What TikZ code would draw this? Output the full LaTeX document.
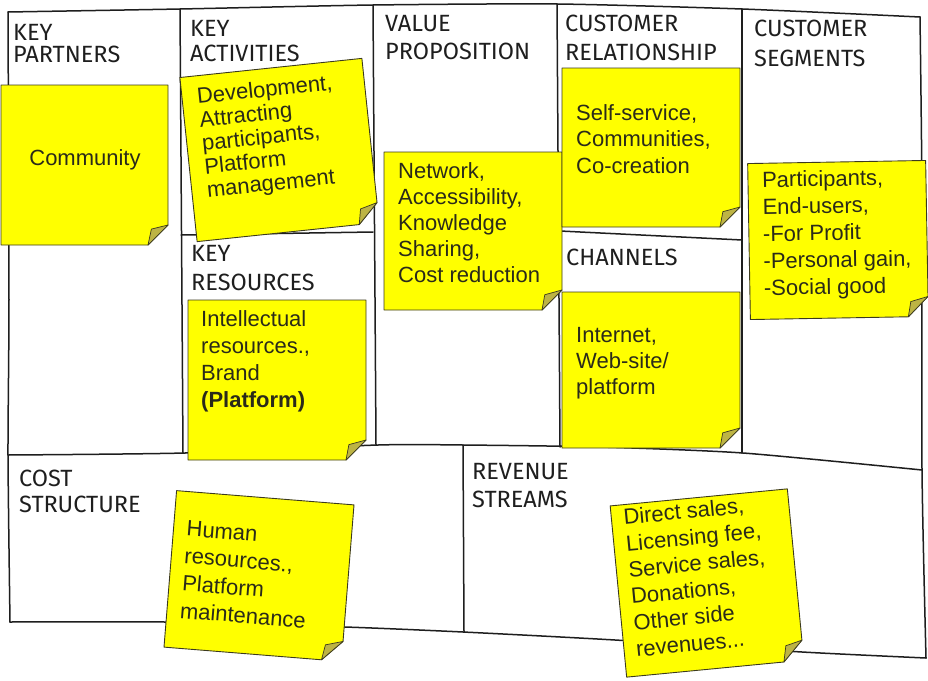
\documentclass[tikz,border=0pt]{standalone}
\usepackage{fontspec}
\setmainfont{Liberation Sans}
\newfontfamily\handfont{Fira Sans}
\usetikzlibrary{calc}
\definecolor{ink}{HTML}{1E1E1E}
\definecolor{noteyellow}{HTML}{FFFF00}
\definecolor{noteedge}{HTML}{3C3A1E}
\definecolor{foldfill}{HTML}{BDB444}
\definecolor{notetextcol}{HTML}{2A2A1A}
\tikzset{
  gridline/.style={draw=ink, line width=1.5pt, line join=round, line cap=round},
  head/.style={anchor=north west, inner sep=0pt, align=left, text=ink, font=\handfont\fontsize{23.5}{27}\selectfont},
  notebox/.style={draw=none, inner sep=0pt, outer sep=0pt},
  notepaper/.style={fill=noteyellow, draw=noteedge, line width=0.9pt, line join=round},
  notefold/.style={fill=foldfill, draw=noteedge, line width=0.7pt, line join=round},
  notetext/.style={anchor=north west, align=left, text=notetextcol, font=\fontsize{22}{26}\selectfont},
}
\newcommand{\stickynote}[5]{%
  \node[notebox, minimum width=#3pt, minimum height=#4pt, rotate=#5] (#1) at (#2) {};
  \coordinate (#1-fa) at ($(#1.south east)!20pt!(#1.north east)$);
  \coordinate (#1-fb) at ($(#1.south east)!20pt!(#1.south west)$);
  \coordinate (#1-ft) at ($(#1.south east)!23pt!(#1.center)$);
  \path[notepaper] (#1.north west) -- (#1.north east) -- (#1-fa) -- (#1-fb) -- (#1.south west) -- cycle;
  \path[notefold] (#1-fa) -- (#1-ft) -- (#1-fb) -- cycle;
}
\begin{document}
\begin{tikzpicture}[x=1pt,y=-1pt]
\useasboundingbox (0,0) rectangle (928,680);
\fill[white] (0,0) rectangle (928,680);

% grid
\draw[gridline] plot[smooth, tension=0.4] coordinates {(8,12) (180,9) (373,5) (557,4) (742,9) (920,17)};
\draw[gridline] plot[smooth, tension=0.4] coordinates {(8,12) (9,300) (8,455) (10,622)};
\draw[gridline] plot[smooth, tension=0.4] coordinates {(920,17) (922,200) (922,470) (926,658)};
\draw[gridline] plot[smooth, tension=0.4] coordinates {(8,455) (185,453) (378,445) (463,445) (600,447) (743,453) (922,470)};
\draw[gridline] plot[smooth, tension=0.4] coordinates {(10,622) (165,622) (345,627) (463,632) (615,640) (802,652) (926,658)};
\draw[gridline] (180,9) -- (183,453);
\draw[gridline] (181,235) -- (373,232);
\draw[gridline] (373,5) -- (376,445);
\draw[gridline] (557,4) -- (560,447);
\draw[gridline] (742,9) -- (742,453);
\draw[gridline] (560,231) -- (742,240);
\draw[gridline] (463,445) -- (464,632);

% headings
\node[head, font=\handfont\fontsize{23.5}{22}\selectfont] (hkp) at (13,24) {KEY\\PARTNERS};
\node[head, font=\handfont\fontsize{23.5}{25}\selectfont] (hka) at (190,20) {KEY\\ACTIVITIES};
\node[head, font=\handfont\fontsize{23.5}{28}\selectfont] (hvp) at (385,15) {VALUE\\PROPOSITION};
\node[head, font=\handfont\fontsize{23.5}{29}\selectfont] (hcr) at (565,15) {CUSTOMER\\RELATIONSHIP};
\node[head, font=\handfont\fontsize{23.5}{30}\selectfont] (hcs) at (754,20) {CUSTOMER\\SEGMENTS};
\node[head, font=\handfont\fontsize{23.5}{29}\selectfont] (hkr) at (191,245) {KEY\\RESOURCES};
\node[head] (hch) at (566,249) {CHANNELS};
\node[head, font=\handfont\fontsize{23.5}{26}\selectfont] (hcost) at (19,470) {COST\\STRUCTURE};
\node[head, font=\handfont\fontsize{23.5}{28}\selectfont] (hrev) at (472,463) {REVENUE\\STREAMS};

% sticky notes
\stickynote{kp}{84.5,165}{167}{160}{0}
\node[notetext, anchor=center, inner sep=0pt] (kp-t) at (85,160) {Community};

\stickynote{ka}{279.5,150}{183}{165}{6}
\node[notetext, rotate=6, inner xsep=15pt, inner ysep=12pt, font=\fontsize{22}{23.5}\selectfont] (ka-t) at (ka.north west) {Development,\\Attracting\\participants,\\Platform\\management};

\stickynote{vp}{473,231}{178}{158}{0}
\node[notetext, inner xsep=14pt, inner ysep=10pt] (vp-t) at (vp.north west) {Network,\\Accessibility,\\Knowledge\\Sharing,\\Cost reduction};

\stickynote{cr}{651,147.5}{178}{159}{0}
\node[notetext, inner xsep=14pt, inner ysep=36pt, font=\fontsize{22}{26.5}\selectfont] (cr-t) at (cr.north west) {Self-service,\\Communities,\\Co-creation};

\stickynote{cs}{838,240}{178}{156}{1}
\node[notetext, rotate=1, inner xsep=14pt, inner ysep=8pt, font=\fontsize{22}{27}\selectfont] (cs-t) at (cs.north west) {Participants,\\End-users,\\-For Profit\\-Personal gain,\\-Social good};

\stickynote{kr}{277,380}{178}{160}{0}
\node[notetext, inner xsep=13pt, inner ysep=10pt, font=\fontsize{22}{27}\selectfont] (kr-t) at (kr.north west) {Intellectual\\resources.,\\Brand\\\textbf{(Platform)}};

\stickynote{ch}{651,370}{178}{156}{0}
\node[notetext, inner xsep=14pt, inner ysep=35pt] (ch-t) at (ch.north west) {Internet,\\Web-site/\\platform};

\stickynote{cost}{259,576}{178}{157}{-4.6}
\node[notetext, rotate=-4.6, inner xsep=13pt, inner ysep=29pt, font=\fontsize{22}{27.5}\selectfont] (cost-t) at (cost.north west) {Human\\resources.,\\Platform\\maintenance};

\stickynote{rev}{707,583}{178}{172}{5.5}
\node[notetext, rotate=5.5, inner xsep=12pt, inner ysep=4pt, font=\fontsize{22}{26.5}\selectfont] (rev-t) at (rev.north west) {Direct sales,\\Licensing fee,\\Service sales,\\Donations,\\Other side\\revenues...};
\end{tikzpicture}
\end{document}
